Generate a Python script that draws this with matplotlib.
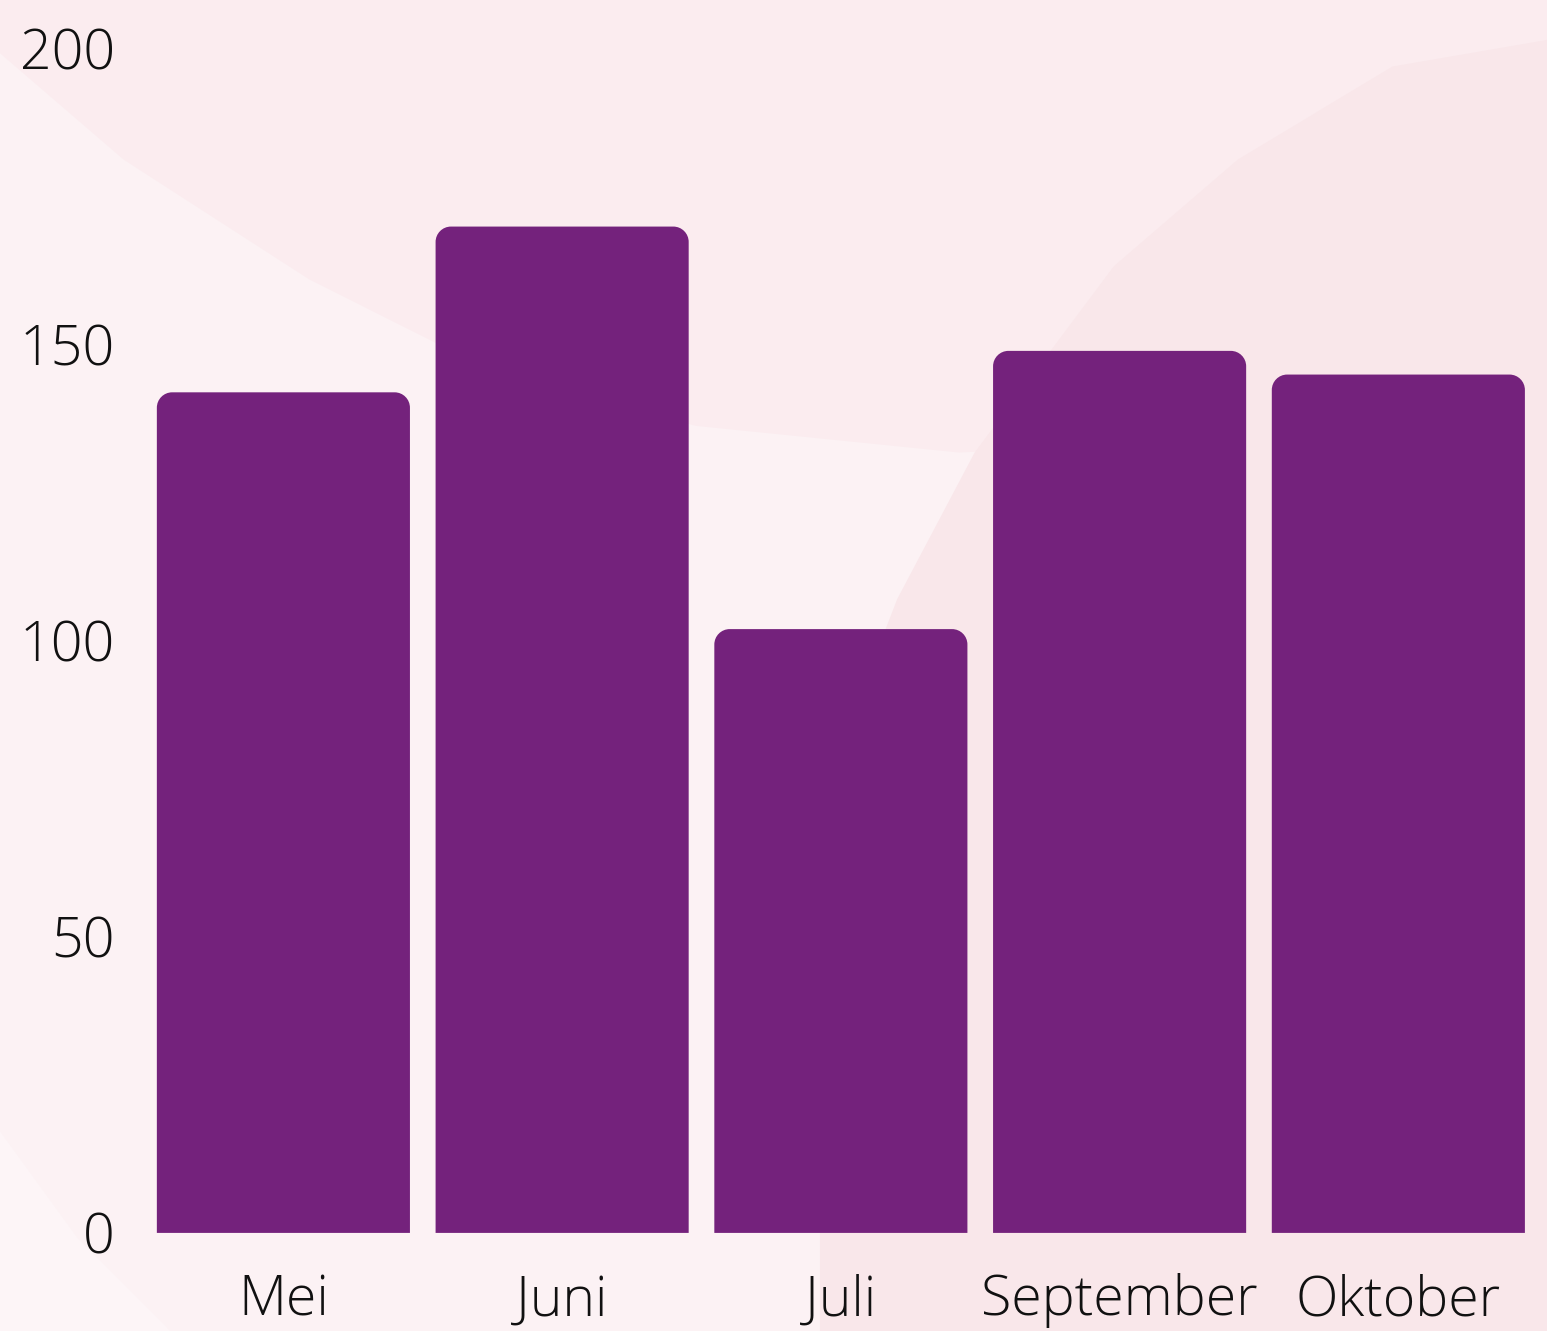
import matplotlib
matplotlib.use("Agg")
import matplotlib.pyplot as plt
from matplotlib.patches import PathPatch, Polygon
from matplotlib.path import Path

months = ["Mei", "Juni", "Juli", "September", "Oktober"]
values = [142, 170, 102, 149, 145]
yticks = [0, 50, 100, 150, 200]

BAR_COLOR = "#74227c"
BG = "#fbecef"

plt.rcParams["font.family"] = ["Open Sans", "DejaVu Sans"]


def top_rounded(x0, w, h, rx, ry):
    # bar outline with only the two top corners rounded (cubic arcs)
    k = 0.5523
    x1 = x0 + w
    verts = [
        (x0, 0), (x1, 0), (x1, h - ry),
        (x1, h - ry + k * ry), (x1 - rx + k * rx, h), (x1 - rx, h),
        (x0 + rx, h),
        (x0 + rx - k * rx, h), (x0, h - ry + k * ry), (x0, h - ry),
        (x0, 0),
    ]
    codes = [Path.MOVETO, Path.LINETO, Path.LINETO,
             Path.CURVE4, Path.CURVE4, Path.CURVE4,
             Path.LINETO,
             Path.CURVE4, Path.CURVE4, Path.CURVE4,
             Path.CLOSEPOLY]
    return Path(verts, codes)


fig = plt.figure(figsize=(15.47, 13.31), dpi=100)
fig.patch.set_facecolor(BG)

# faint brush-stroke background shapes (figure coords)
bg = fig.add_axes([0, 0, 1, 1], zorder=-5)
bg.set_xlim(0, 1)
bg.set_ylim(0, 1)
bg.axis("off")
bg.add_patch(Polygon([(0, 0.96), (0.08, 0.88), (0.2, 0.79), (0.32, 0.72), (0.45, 0.68),
                      (0.62, 0.66), (0.8, 0.67), (1.0, 0.7), (1.0, 0.0), (0, 0)],
                     closed=True, facecolor="#fcf2f4", edgecolor="none"))
bg.add_patch(Polygon([(1.0, 0.97), (0.9, 0.95), (0.8, 0.88), (0.72, 0.8), (0.63, 0.66),
                      (0.58, 0.55), (0.53, 0.4), (0.53, 0.0), (1.0, 0.0)],
                     closed=True, facecolor="#f9e7ea", edgecolor="none"))
bg.add_patch(Polygon([(0, 0.15), (0.05, 0.07), (0.11, 0.0), (0, 0)],
                     closed=True, facecolor="#fdf5f7", edgecolor="none"))

ax = fig.add_axes([0.0931, 0.0737, 0.9009, 0.8895])
ax.set_facecolor("none")
x = range(len(months))
bars = ax.bar(x, values, width=0.908, color=BAR_COLOR, alpha=0)

ax.set_xlim(-0.5, len(months) - 0.5)
ax.set_ylim(0, 200)

rx, ry = 0.055, 2.6
for b in bars:
    ax.add_patch(PathPatch(top_rounded(b.get_x(), b.get_width(), b.get_height(), rx, ry),
                           facecolor=BAR_COLOR, edgecolor="none"))

ax.set_xticks(list(x))
ax.set_xticklabels(months)
ax.set_yticks(yticks)
ax.set_yticklabels([str(v) for v in yticks])
ax.tick_params(axis="both", length=0, labelsize=40, colors="#111111")
ax.tick_params(axis="y", pad=21)
ax.tick_params(axis="x", pad=29)
for lbl in ax.get_xticklabels() + ax.get_yticklabels():
    lbl.set_fontweight("light")
for s in ax.spines.values():
    s.set_visible(False)

fig.savefig("out.png", dpi=100, facecolor=BG)
